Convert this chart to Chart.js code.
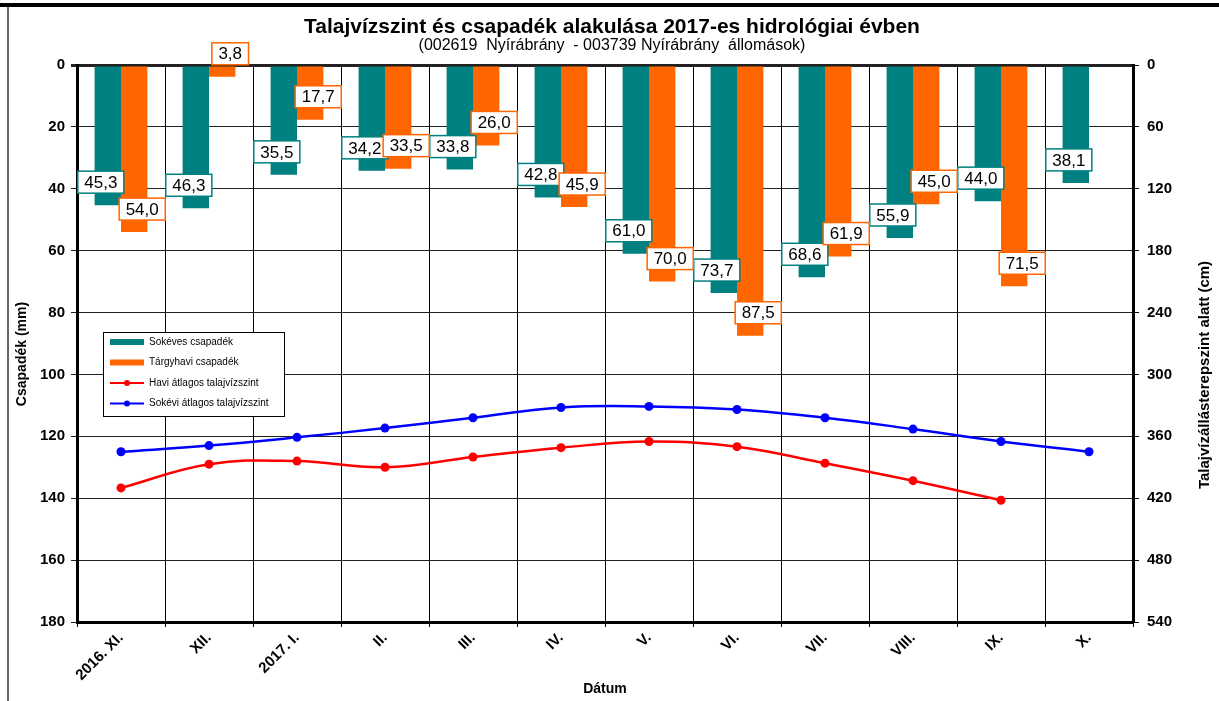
<!DOCTYPE html>
<html>
<head>
<meta charset="utf-8">
<script src="https://cdn.jsdelivr.net/npm/chart.js@4.4.1/dist/chart.umd.min.js"></script>
<style>
  html, body { margin: 0; padding: 0; background: #fff; }
  #wrap { width: 1219px; height: 701px; position: relative; }
</style>
</head>
<body>
<div id="wrap"><canvas id="chart" width="1219" height="701"></canvas></div>
<script>
const months = ['2016. XI.', 'XII.', '2017. I.', 'II.', 'III.', 'IV.', 'V.', 'VI.', 'VII.', 'VIII.', 'IX.', 'X.'];
const sokevesCsapadek = [45.3, 46.3, 35.5, 34.2, 33.8, 42.8, 61.0, 73.7, 68.6, 55.9, 44.0, 38.1];
const targyhaviCsapadek = [54.0, 3.8, 17.7, 33.5, 26.0, 45.9, 70.0, 87.5, 61.9, 45.0, 71.5, null];
const haviTalajviz = [410, 387, 384, 390, 380, 371, 365, 370, 386, 403, 422, null]; // cm
const sokeviTalajviz = [375, 369, 361, 352, 342, 332, 331, 334, 342, 353, 365, 375]; // cm

const csapadekTicks = [0, 180, 20];
const talajvizTicks = [0, 540, 60];

const FONT = '"Liberation Sans", Arial, sans-serif';
const TEAL = '#008080';
const ORANGE = '#FF6600';

// value boxes on the bar ends
const barLabels = {
    id: 'barLabels',
    afterDatasetsDraw(chart) {
        const ctx = chart.ctx;
        ctx.save();
        ctx.font = '17px ' + FONT;
        ctx.textAlign = 'center';
        ctx.textBaseline = 'middle';
        [0, 1].forEach(di => {
            const ds = chart.data.datasets[di];
            const meta = chart.getDatasetMeta(di);
            meta.data.forEach((bar, i) => {
                const v = ds.data[i];
                if (v === null || v === undefined) return;
                const txt = v.toFixed(1).replace('.', ',');
                const w = ctx.measureText(txt).width + 13;
                const h = 22;
                const cx = bar.x + (di === 0 ? -7 : 8);
                const cy = bar.y - 23;
                ctx.fillStyle = '#fff';
                ctx.fillRect(cx - w / 2, cy - h / 2, w, h);
                ctx.strokeStyle = ds.backgroundColor;
                ctx.lineWidth = 1.5;
                ctx.strokeRect(cx - w / 2, cy - h / 2, w, h);
                ctx.fillStyle = '#000';
                ctx.fillText(txt, cx, cy + 1);
            });
        });
        ctx.restore();
    }
};

// titles, frame and the legend box
const decorations = {
    id: 'decorations',
    beforeDraw(chart) {
        const ctx = chart.ctx;
        ctx.save();
        ctx.fillStyle = '#fff';
        ctx.fillRect(0, 0, chart.width, chart.height);
        ctx.restore();
    },
    afterDraw(chart) {
        const ctx = chart.ctx;
        const area = chart.chartArea;
        ctx.save();
        // frame
        ctx.fillStyle = '#000';
        ctx.fillRect(0, 3, chart.width, 4);
        ctx.fillStyle = '#666';
        ctx.fillRect(7, 7, 2, chart.height - 7);

        // title
        ctx.fillStyle = '#000';
        ctx.textAlign = 'center';
        ctx.textBaseline = 'middle';
        ctx.font = 'bold 21px ' + FONT;
        ctx.fillText('Talajvízszint és csapadék alakulása 2017-es hidrológiai évben', 612, 27);
        ctx.font = '16px ' + FONT;
        ctx.fillText('(002619  Nyírábrány  - 003739 Nyírábrány  állomások)', 612, 46);

        // axis titles
        ctx.font = 'bold 14px ' + FONT;
        ctx.fillText('Dátum', (area.left + area.right) / 2, 689);
        ctx.save();
        ctx.translate(22, 354);
        ctx.rotate(-Math.PI / 2);
        ctx.fillText('Csapadék (mm)', 0, 0);
        ctx.restore();
        ctx.save();
        ctx.font = 'bold 15px ' + FONT;
        ctx.translate(1205, 375);
        ctx.rotate(-Math.PI / 2);
        ctx.fillText('Talajvízállásterepszint alatt (cm)', 0, 0);
        ctx.restore();

        // legend
        const lx = 103, ly = 332, lw = 181, lh = 84;
        ctx.fillStyle = '#fff';
        ctx.fillRect(lx, ly, lw, lh);
        ctx.strokeStyle = '#000';
        ctx.lineWidth = 1;
        ctx.strokeRect(lx + 0.5, ly + 0.5, lw, lh);
        const rows = [0, 1, 2, 3];
        ctx.font = '10px ' + FONT;
        ctx.textAlign = 'left';
        rows.forEach((di, r) => {
            const ds = chart.data.datasets[di];
            const y = ly + 10 + r * 20.5;
            if (ds.type === 'line') {
                ctx.strokeStyle = ds.borderColor;
                ctx.lineWidth = 2;
                ctx.beginPath();
                ctx.moveTo(110, y);
                ctx.lineTo(144, y);
                ctx.stroke();
                ctx.fillStyle = ds.borderColor;
                ctx.beginPath();
                ctx.arc(127, y, 3, 0, Math.PI * 2);
                ctx.fill();
            } else {
                ctx.fillStyle = ds.backgroundColor;
                ctx.fillRect(110, y - 3, 34, 6);
            }
            ctx.fillStyle = '#000';
            ctx.fillText(ds.label, 149, y);
        });
        ctx.restore();
    }
};

new Chart(document.getElementById('chart'), {
    data: {
        labels: months,
        datasets: [
            {
                type: 'bar',
                label: 'Sokéves csapadék',
                data: sokevesCsapadek,
                backgroundColor: TEAL,
                yAxisID: 'y',
                categoryPercentage: 0.6,
                barPercentage: 1.0,
                order: 2
            },
            {
                type: 'bar',
                label: 'Tárgyhavi csapadék',
                data: targyhaviCsapadek,
                backgroundColor: ORANGE,
                yAxisID: 'y',
                categoryPercentage: 0.6,
                barPercentage: 1.0,
                order: 2
            },
            {
                type: 'line',
                label: 'Havi átlagos talajvízszint',
                data: haviTalajviz,
                borderColor: '#FF0000',
                backgroundColor: '#FF0000',
                borderWidth: 2.5,
                pointRadius: 4.5,
                pointBorderWidth: 0,
                tension: 0.4,
                spanGaps: false,
                yAxisID: 'y2',
                order: 1
            },
            {
                type: 'line',
                label: 'Sokévi átlagos talajvízszint',
                data: sokeviTalajviz,
                borderColor: '#0000FF',
                backgroundColor: '#0000FF',
                borderWidth: 2.5,
                pointRadius: 4.5,
                pointBorderWidth: 0,
                tension: 0.4,
                yAxisID: 'y2',
                order: 0
            }
        ]
    },
    options: {
        responsive: false,
        animation: false,
        layout: { padding: { top: 65, left: 12, right: 0, bottom: 0 } },
        plugins: {
            legend: { display: false },
            title: { display: false },
            tooltip: { enabled: false }
        },
        scales: {
            x: {
                type: 'category',
                offset: true,
                grid: { color: '#000', lineWidth: 1, offset: true, tickLength: 5 },
                border: { color: '#000', width: 3 },
                ticks: {
                    color: '#000',
                    font: { family: FONT, size: 15, weight: 'bold' },
                    minRotation: 45,
                    maxRotation: 45,
                    padding: 2
                },
                afterFit(scale) { scale.height = 79; }
            },
            y: {
                position: 'left',
                reverse: true,
                min: csapadekTicks[0],
                max: csapadekTicks[1],
                ticks: {
                    stepSize: csapadekTicks[2],
                    color: '#000',
                    font: { family: FONT, size: 15, weight: 'bold' },
                    padding: 6
                },
                grid: {
                    color: '#222',
                    lineWidth: c => (c.tick && c.tick.value === 0 ? 3 : 1),
                    tickLength: 6
                },
                border: { color: '#000', width: 3 },
                afterFit(scale) { scale.width = 65; }
            },
            y2: {
                position: 'right',
                reverse: true,
                min: talajvizTicks[0],
                max: talajvizTicks[1],
                ticks: {
                    stepSize: talajvizTicks[2],
                    color: '#000',
                    font: { family: FONT, size: 15, weight: 'bold' },
                    padding: 8
                },
                grid: { drawOnChartArea: false, color: '#000', tickLength: 6 },
                border: { color: '#000', width: 3 },
                afterFit(scale) { scale.width = 86; }
            }
        }
    },
    plugins: [decorations, barLabels]
});
</script>
</body>
</html>
